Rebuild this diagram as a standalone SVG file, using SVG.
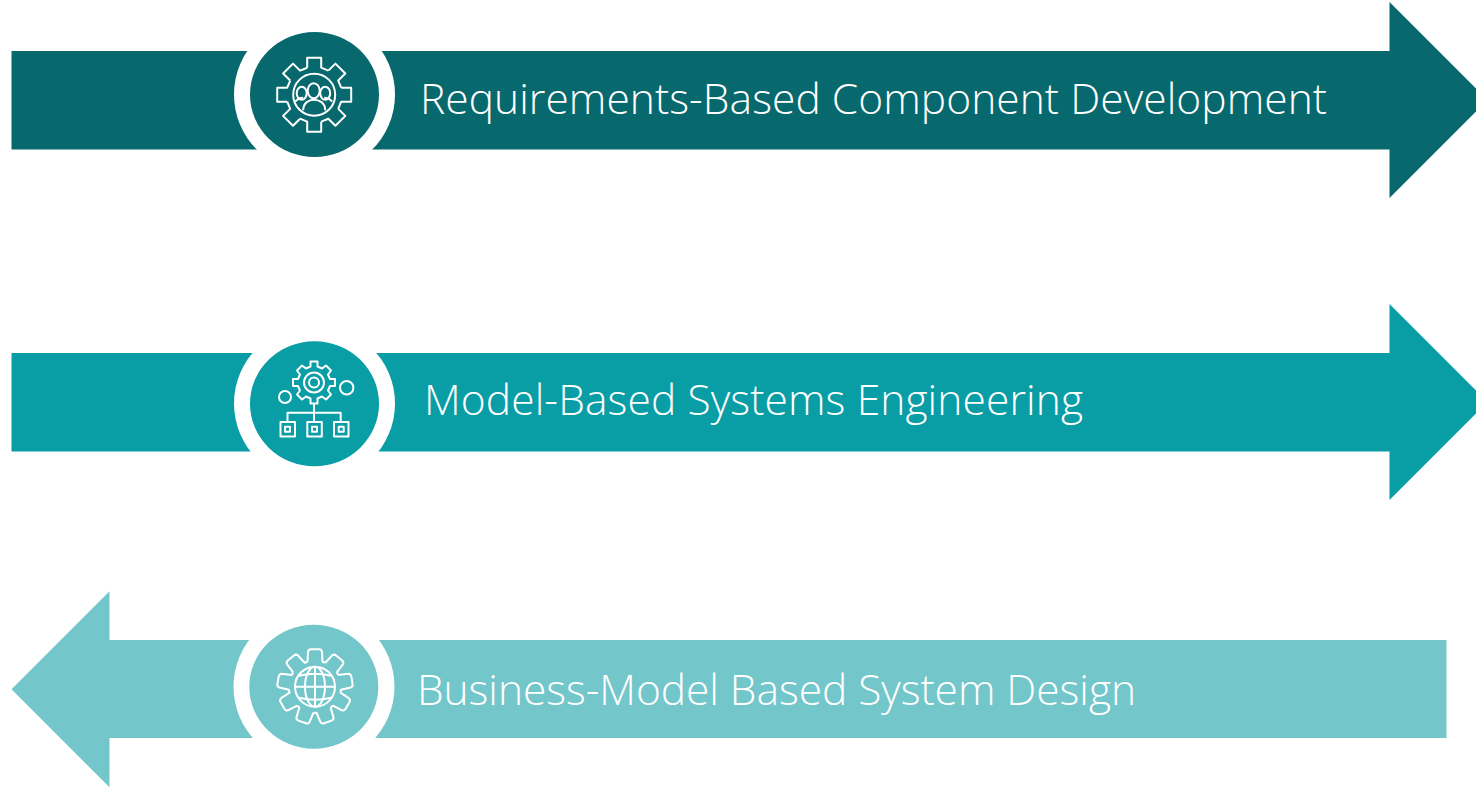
<svg xmlns="http://www.w3.org/2000/svg" width="1476" height="788" viewBox="0 0 1476 788">
<style>
.t{font-family:"Open Sans","Liberation Sans",sans-serif;font-weight:300;font-size:42.5px;fill:#fff}
.i{fill:none;stroke:#fff;stroke-width:2;stroke-linejoin:round}
.r{fill:#fff}
</style>
<defs>
<path id="t8" d="M-7,-27V-37H7V-27L14.1,-24"/>
<path id="t9" d="M-7.5,-25L-7,-35Q-6.5,-37.5 -4,-37.5H4Q6.5,-37.5 7,-35L7.5,-25L10.3,-23.97"/>
</defs>
<rect width="1476" height="788" fill="#fff"/>
<g id="node1">
<path fill="#07686d" d="M11.5,51H1389.5V2L1487.5,100L1389.5,198V149.5H11.5Z"/>
<ellipse class="r" cx="314.5" cy="94.5" rx="80.5" ry="79"/>
<ellipse fill="#07686d" cx="314.5" cy="94.5" rx="64.5" ry="62.5"/>
<g class="i" transform="translate(314.2,94.7)">
<use href="#t8"/><use href="#t8" transform="rotate(45)"/><use href="#t8" transform="rotate(90)"/><use href="#t8" transform="rotate(135)"/><use href="#t8" transform="rotate(180)"/><use href="#t8" transform="rotate(225)"/><use href="#t8" transform="rotate(270)"/><use href="#t8" transform="rotate(315)"/>
<circle r="21"/>
<ellipse cx="-0.5" cy="-4" rx="6" ry="7.5"/>
<ellipse cx="-12.5" cy="-1.5" rx="5" ry="6.5"/>
<ellipse cx="11" cy="-1.5" rx="5" ry="6.5"/>
<path d="M-11,15.5C-11,8 -5,5 -0.5,5C5,5 11,8 11,15.5M-19,7Q-16,3 -11,3M18,7Q15,3 10,3"/>
</g>
<text class="t" x="420" y="113.5" textLength="907" lengthAdjust="spacing">Requirements-Based Component Development</text>
</g>
<g id="node2">
<path fill="#099da5" d="M11.5,353H1389.5V304L1487.5,402L1389.5,500V451.5H11.5Z"/>
<ellipse class="r" cx="314.5" cy="403.5" rx="80.5" ry="79"/>
<ellipse fill="#099da5" cx="314.5" cy="403.7" rx="64.5" ry="62.5"/>
<g class="i" transform="translate(314,382.5)">
<path d="M-3.5,-21V-16L-8,-14L-12,-17L-17,-12L-14,-8L-16,-3.5H-21V3.5H-16L-14,8L-17,12L-12,17L-8,14L-3.5,16V21H3.5V16L8,14L12,17L17,12L14,8L16,3.5H21V-3.5H16L14,-8L17,-12L12,-17L8,-14L3.5,-16V-21Z"/>
<circle r="10"/><circle r="5"/>
</g>
<g class="i">
<circle cx="285" cy="397" r="6"/><circle cx="346.7" cy="387.7" r="6.7"/>
<path d="M314,404V422M287.5,422V412.7H340.7V422"/>
<rect x="280.5" y="422" width="14.5" height="14.5"/><rect x="307.3" y="422" width="14.5" height="14.5"/><rect x="334" y="422" width="14.5" height="14.5"/>
<rect x="285" y="426.7" width="5" height="5"/><rect x="312" y="426.7" width="5" height="5"/><rect x="338.7" y="426.7" width="5" height="5"/>
</g>
<text class="t" x="424" y="414.5" textLength="659" lengthAdjust="spacing">Model-Based Systems Engineering</text>
</g>
<g id="node3">
<path fill="#73c6ca" d="M11.5,689.3L109.5,591.3V640H1446.5V738H109.5V787.3Z"/>
<ellipse class="r" cx="314" cy="686.7" rx="80.5" ry="79"/>
<ellipse fill="#73c6ca" cx="313.8" cy="686.7" rx="64.5" ry="62"/>
<g class="i" transform="translate(315,686.7)">
<use href="#t9"/><use href="#t9" transform="rotate(40)"/><use href="#t9" transform="rotate(80)"/><use href="#t9" transform="rotate(120)"/><use href="#t9" transform="rotate(160)"/><use href="#t9" transform="rotate(200)"/><use href="#t9" transform="rotate(240)"/><use href="#t9" transform="rotate(280)"/><use href="#t9" transform="rotate(320)"/>
<circle r="20"/>
<ellipse rx="10" ry="20"/>
<path d="M0,-20V20M-20,0H20M-16,-11Q0,-15 16,-11M-16,11Q0,15 16,11"/>
</g>
<text class="t" x="417" y="704.5" textLength="719" lengthAdjust="spacing">Business-Model Based System Design</text>
</g>
<g id="connectors"></g>
</svg>
